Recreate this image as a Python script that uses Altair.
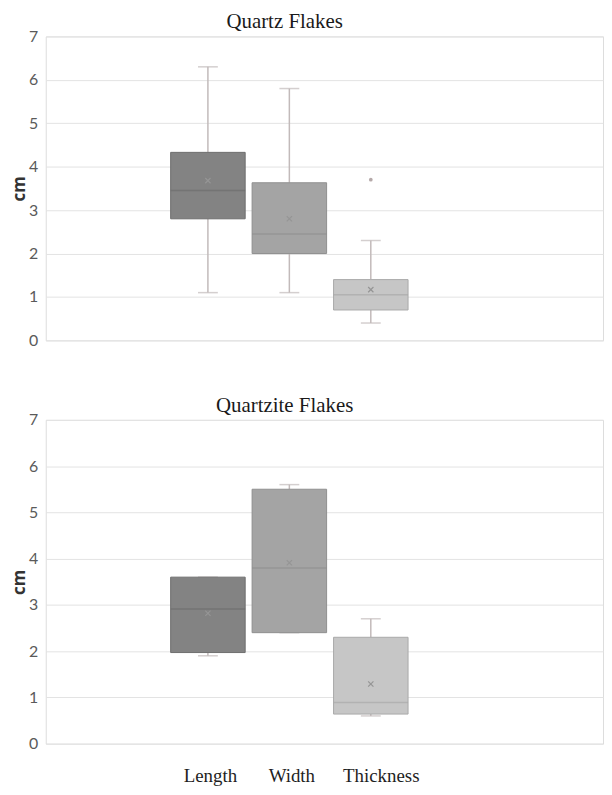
import altair as alt
import pandas as pd

categories = ["Length", "Width", "Thickness"]
positions = [0, 1, 2]

quartz_min = [1.1, 1.1, 0.4]
quartz_q1 = [2.8, 2.0, 0.7]
quartz_median = [3.45, 2.45, 1.05]
quartz_q3 = [4.33, 3.63, 1.4]
quartz_max = [6.3, 5.8, 2.3]
quartz_mean = [3.68, 2.8, 1.17]
quartz_outlier_cat = ["Thickness"]
quartz_outlier_pos = [2]
quartz_outlier_val = [3.7]

quartzite_min = [1.9, 2.4, 0.6]
quartzite_q1 = [1.97, 2.4, 0.64]
quartzite_median = [2.91, 3.8, 0.89]
quartzite_q3 = [3.6, 5.5, 2.3]
quartzite_max = [3.6, 5.6, 2.7]
quartzite_mean = [2.82, 3.91, 1.29]

fill_colors = ["#838383", "#a4a4a4", "#c6c6c6"]
line_colors = ["#6e6e6e", "#8f8f8f", "#a9a9a9"]
whisker_color = "#c2baba"

X_DOMAIN = [-1.93, 4.79]
Y_TICKS = [0, 1, 2, 3, 4, 5, 6, 7]
X_MARK = "M-1,-1L1,1M-1,1L1,-1"


def panel(title, mins, q1s, meds, q3s, maxs, means, height, show_x, outliers=None):
    df = pd.DataFrame({
        "cat": categories, "pos": positions, "min": mins, "q1": q1s,
        "median": meds, "q3": q3s, "max": maxs, "mean": means,
    })
    if show_x:
        xaxis = alt.Axis(values=positions, labelExpr="['Length','Width','Thickness'][datum.value]",
                         title=None, grid=False, ticks=False, domain=False,
                         labelFont="Liberation Serif", labelFontSize=19, labelColor="#1e1e1e",
                         labelPadding=23,
                         labelOffset={"condition": {"test": "datum.value == 2", "value": 10},
                                      "value": 2})
    else:
        xaxis = None
    x = alt.X("pos:Q", scale=alt.Scale(domain=X_DOMAIN, nice=False, zero=False), axis=xaxis)
    yscale = alt.Scale(domain=[0, 7], nice=False)
    yaxis = alt.Axis(values=Y_TICKS, title="cm", grid=True, gridColor="#e3e3e3", domain=False,
                     ticks=False, labelFont="Lato", labelFontSize=16, labelColor="#5a5a5a",
                     labelPadding=8, titleFont="Open Sans", titleFontSize=17, titleFontWeight="bold",
                     titleColor="#333333", titleX=-26, titleBaseline="middle")
    base = alt.Chart(df)
    lower = base.mark_rule(color=whisker_color, strokeWidth=1.5).encode(
        x=x, y=alt.Y("min:Q", scale=yscale, axis=yaxis), y2="q1:Q")
    upper = base.mark_rule(color=whisker_color, strokeWidth=1.5).encode(
        x=x, y=alt.Y("q3:Q", scale=yscale), y2="max:Q")
    cap_lo = base.mark_tick(orient="horizontal", size=20, thickness=1.5, color=whisker_color).encode(
        x=x, y=alt.Y("min:Q", scale=yscale))
    cap_hi = base.mark_tick(orient="horizontal", size=20, thickness=1.5, color=whisker_color).encode(
        x=x, y=alt.Y("max:Q", scale=yscale))
    box = base.mark_bar(size=75, strokeWidth=1).encode(
        x=x, y=alt.Y("q1:Q", scale=yscale), y2="q3:Q",
        fill=alt.Fill("cat:N", scale=alt.Scale(domain=categories, range=fill_colors), legend=None),
        stroke=alt.Stroke("cat:N", scale=alt.Scale(domain=categories, range=line_colors), legend=None))
    med = base.mark_tick(orient="horizontal", size=75, thickness=1.5).encode(
        x=x, y=alt.Y("median:Q", scale=yscale),
        color=alt.Color("cat:N", scale=alt.Scale(domain=categories, range=line_colors), legend=None))
    mean = base.mark_point(shape=X_MARK, size=28, strokeWidth=1.2, filled=False,
                           color="#959595", opacity=1).encode(
        x=x, y=alt.Y("mean:Q", scale=yscale))
    layers = [lower, upper, cap_lo, cap_hi, box, med, mean]
    if outliers is not None:
        odf = pd.DataFrame({"cat": outliers[0], "pos": outliers[1], "val": outliers[2]})
        out = alt.Chart(odf).mark_circle(size=14, color="#b5a9a9", opacity=1).encode(
            x=x, y=alt.Y("val:Q", scale=yscale))
        layers.append(out)
    return alt.layer(*layers).properties(
        width=561, height=height,
        title=alt.Title(title, font="Liberation Serif", fontSize=21, fontWeight="normal",
                        color="#1a1a1a", dx=-40, offset=-4, anchor="middle"),
    )


top = panel("Quartz Flakes", quartz_min, quartz_q1, quartz_median, quartz_q3, quartz_max,
            quartz_mean, 306, False,
            outliers=(quartz_outlier_cat, quartz_outlier_pos, quartz_outlier_val))
bottom = panel("Quartzite Flakes", quartzite_min, quartzite_q1, quartzite_median, quartzite_q3,
               quartzite_max, quartzite_mean, 326, True)

chart = alt.vconcat(top, bottom, spacing=45).properties(
    padding={"left": 2, "top": 0, "right": 0, "bottom": 0}
).configure_view(strokeWidth=0).configure(background="white")

chart.save("out.html", embed_options={"renderer": "svg", "actions": False})
